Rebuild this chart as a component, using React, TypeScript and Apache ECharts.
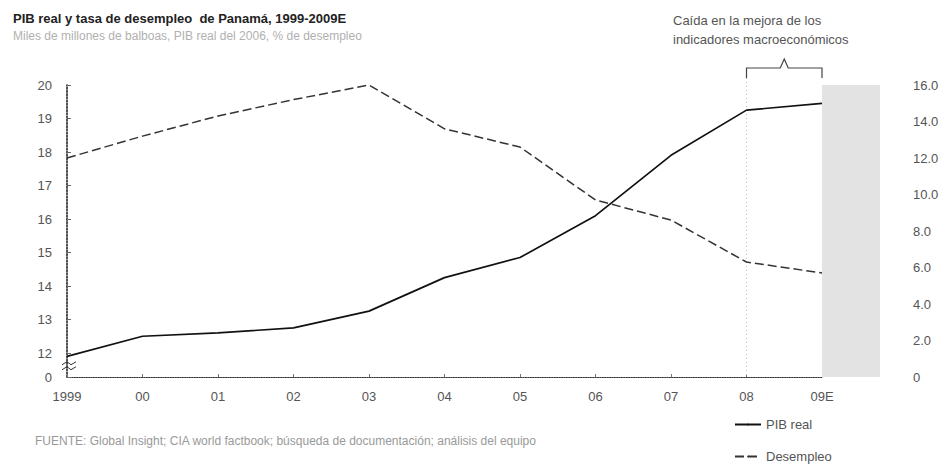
import React, { useEffect, useRef } from "react";
import * as echarts from "echarts";

const categories = ["1999", "00", "01", "02", "03", "04", "05", "06", "07", "08", "09E"];
const pibReal = [11.9, 12.5, 12.6, 12.75, 13.25, 14.25, 14.85, 16.1, 17.9, 19.25, 19.45];
const desempleo = [12.0, 13.2, 14.3, 15.2, 16.0, 13.6, 12.6, 9.7, 8.6, 6.3, 5.7];
const leftTickValues = [11.284, 12, 13, 14, 15, 16, 17, 18, 19, 20];
const leftMin = 11.284;
const leftMax = 20;
const rightMax = 16;
const rightInterval = 2;

const titleText = "PIB real y tasa de desempleo  de Panamá, 1999-2009E";
const subtitleText = "Miles de millones de balboas, PIB real del 2006, % de desempleo";
const noteText = "Caída en la mejora de los\nindicadores macroeconómicos";
const sourceText =
  "FUENTE: Global Insight; CIA world factbook; búsqueda de documentación; análisis del equipo";

const FONT = "'Liberation Sans', Arial, sans-serif";

export default function App() {
  const ref = useRef<HTMLDivElement>(null);
  useEffect(() => {
    document.body.style.margin = "0";
    const chart = echarts.init(ref.current!, null, { renderer: "svg" });
    chart.setOption({
      animation: false,
      textStyle: { fontFamily: FONT },
      title: {
        text: titleText,
        subtext: subtitleText,
        left: 8,
        top: 7,
        itemGap: 5,
        textStyle: { fontSize: 13, fontWeight: "bold", color: "#222", fontFamily: FONT },
        subtextStyle: { fontSize: 12, color: "#b0b0b0", fontFamily: FONT },
      },
      grid: { left: 67, right: 130, top: 85, bottom: 91 },
      legend: {
        orient: "vertical",
        left: 734,
        top: 418,
        padding: 0,
        itemWidth: 26,
        itemHeight: 2,
        itemGap: 19,
        data: ["PIB real", "Desempleo"],
        textStyle: { fontSize: 13, color: "#555", fontFamily: FONT },
      },
      xAxis: {
        type: "category",
        data: categories,
        boundaryGap: false,
        axisLine: { lineStyle: { type: "dotted", color: "#333", width: 1.2 } },
        axisTick: { show: true, inside: true, length: 3, lineStyle: { color: "#777" } },
        axisLabel: { margin: 13, fontSize: 13, color: "#555", fontFamily: FONT },
        splitLine: { show: false },
      },
      yAxis: [
        {
          type: "value",
          min: leftMin,
          max: leftMax,
          axisLine: { show: true, lineStyle: { type: "dotted", color: "#222", width: 1.6 } },
          axisTick: {
            show: true,
            inside: true,
            length: 4,
            customValues: leftTickValues,
            lineStyle: { color: "#666" },
          },
          axisLabel: {
            customValues: leftTickValues,
            margin: 15,
            fontSize: 13,
            color: "#555",
            fontFamily: FONT,
            formatter: (v: number) => (v < 11.9 ? "0" : String(Math.round(v))),
          },
          splitLine: { show: false },
        },
        {
          type: "value",
          min: 0,
          max: rightMax,
          interval: rightInterval,
          position: "right",
          offset: 58,
          axisLine: { show: false },
          axisTick: { show: false },
          axisLabel: {
            margin: 33,
            fontSize: 13,
            color: "#555",
            fontFamily: FONT,
            formatter: (v: number) => (v === 0 ? "0" : v.toFixed(1)),
          },
          splitLine: { show: false },
        },
      ],
      series: [
        {
          name: "PIB real",
          type: "line",
          yAxisIndex: 0,
          data: pibReal,
          symbol: "none",
          z: 3,
          lineStyle: { color: "#111", width: 1.7 },
          itemStyle: { color: "#111" },
        },
        {
          name: "Desempleo",
          type: "line",
          yAxisIndex: 1,
          data: desempleo,
          symbol: "none",
          z: 3,
          lineStyle: { color: "#333", width: 1.5, type: [9, 4] },
          itemStyle: { color: "#333" },
        },
      ],
    });

    const x08 = chart.convertToPixel({ xAxisIndex: 0 }, "08") as number;
    const x09 = chart.convertToPixel({ xAxisIndex: 0 }, "09E") as number;
    const x99 = chart.convertToPixel({ xAxisIndex: 0 }, "1999") as number;
    const yTop = chart.convertToPixel({ yAxisIndex: 1 }, rightMax) as number;
    const yBot = chart.convertToPixel({ yAxisIndex: 1 }, 0) as number;
    const yBreak = chart.convertToPixel({ yAxisIndex: 0 }, 11.62) as number;
    const mid = (x08 + x09) / 2;
    const bY = 68;

    chart.setOption({
      graphic: [
        {
          type: "rect",
          shape: { x: x09, y: yTop, width: 58, height: yBot - yTop },
          style: { fill: "#e3e3e3" },
          z: 1,
        },
        {
          type: "line",
          shape: { x1: x08, y1: bY + 10, x2: x08, y2: yBot },
          style: { stroke: "#bbb", lineWidth: 1, lineDash: [1, 3] },
          z: 1,
        },
        {
          type: "polyline",
          shape: {
            points: [
              [x08, bY + 10],
              [x08, bY],
              [mid - 4, bY],
              [mid, bY - 9],
              [mid + 4, bY],
              [x09, bY],
              [x09, bY + 10],
            ],
          },
          style: { stroke: "#444", lineWidth: 1.2, fill: null },
        },
        {
          type: "polyline",
          shape: {
            points: [
              [x99 - 5, yBreak - 1],
              [x99, yBreak - 4],
              [x99 + 4, yBreak - 1],
              [x99 + 9, yBreak - 4],
            ],
          },
          style: { stroke: "#333", lineWidth: 1, fill: null },
        },
        {
          type: "polyline",
          shape: {
            points: [
              [x99 - 5, yBreak + 4],
              [x99, yBreak + 1],
              [x99 + 4, yBreak + 4],
              [x99 + 9, yBreak + 1],
            ],
          },
          style: { stroke: "#333", lineWidth: 1, fill: null },
        },
        {
          type: "text",
          left: 673,
          top: 11,
          style: {
            text: noteText,
            fontSize: 13,
            lineHeight: 19,
            fill: "#555",
            fontFamily: FONT,
          },
        },
        {
          type: "text",
          left: 35,
          top: 435,
          style: {
            text: sourceText,
            fontSize: 12,
            fill: "#999",
            fontFamily: FONT,
          },
        },
      ],
    });

    return () => chart.dispose();
  }, []);
  return (
    <div
      ref={ref}
      style={{ position: "fixed", left: 0, top: 0, width: 952, height: 468, background: "#fff" }}
    />
  );
}
